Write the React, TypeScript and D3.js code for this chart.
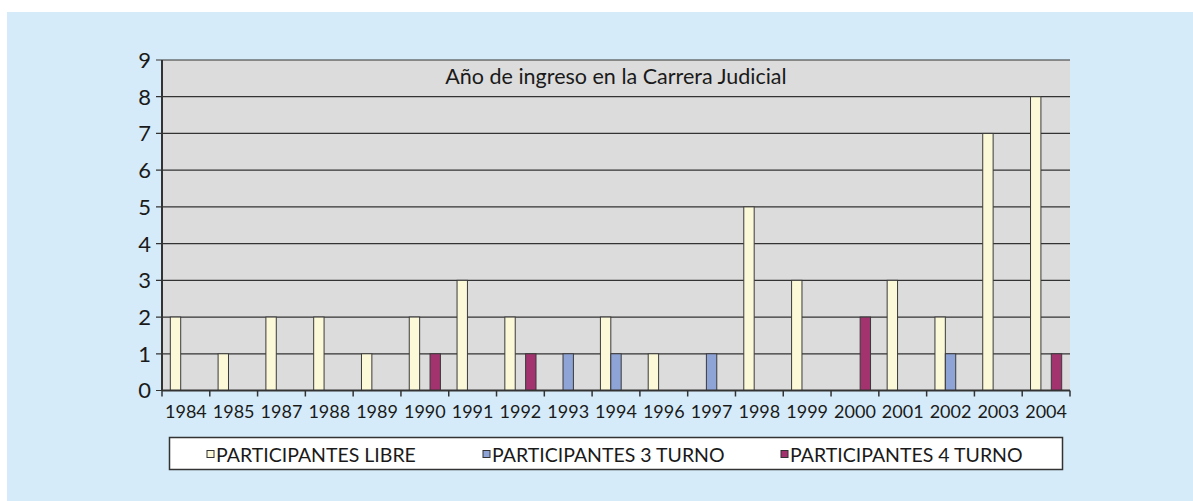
import React from "react";
import * as d3 from "d3";

// años en el eje X
const years = [
  "1984", "1985", "1987", "1988", "1989", "1990", "1991", "1992", "1993", "1994",
  "1996", "1997", "1998", "1999", "2000", "2001", "2002", "2003", "2004",
];

const seriesNames = ["PARTICIPANTES LIBRE", "PARTICIPANTES 3 TURNO", "PARTICIPANTES 4 TURNO"];
const seriesColors = ["#fcf9d9", "#8fa4d6", "#a3336f"];

const libre = [2, 1, 2, 2, 1, 2, 3, 2, 0, 2, 1, 0, 5, 3, 0, 3, 2, 7, 8];
const turno3 = [0, 0, 0, 0, 0, 0, 0, 0, 1, 1, 0, 1, 0, 0, 0, 0, 1, 0, 0];
const turno4 = [0, 0, 0, 0, 0, 1, 0, 1, 0, 0, 0, 0, 0, 0, 2, 0, 0, 0, 1];

const yTicks = [0, 1, 2, 3, 4, 5, 6, 7, 8, 9];
const title = "Año de ingreso en la Carrera Judicial";

const W = 1193;
const H = 501;
const plot = { left: 162, right: 1070, top: 60, bottom: 390.5 };
const font = "Lato, 'Open Sans', sans-serif";

export default function App() {
  const values = [libre, turno3, turno4];

  const x = d3.scaleBand().domain(years).range([plot.left, plot.right]).padding(0);
  const inner = d3
    .scaleBand()
    .domain(seriesNames)
    .range([0, x.bandwidth()])
    .paddingInner(0)
    .paddingOuter(0.8);
  const y = d3.scaleLinear().domain([0, 9]).range([plot.bottom, plot.top]);

  const boundaries = years.map((yr) => x(yr) as number).concat([plot.right]);

  // legend layout
  const legendX = [207, 483, 781];

  return (
    <svg
      width={W}
      height={H}
      style={{ position: "absolute", left: 0, top: 0 }}
      fontFamily={font}
    >
      <rect x={0} y={0} width={W} height={H} fill="#ffffff" />
      <rect x={7} y={12} width={W - 7} height={H - 12} fill="#d5ebf9" />

      {/* plot area */}
      <rect
        x={plot.left}
        y={plot.top}
        width={plot.right - plot.left}
        height={plot.bottom - plot.top}
        fill="#dcdcdc"
      />

      {/* grid lines */}
      {yTicks.map((t) => (
        <line
          key={"g" + t}
          x1={plot.left - 6}
          x2={plot.right}
          y1={y(t)}
          y2={y(t)}
          stroke="#333"
          strokeWidth={1.2}
        />
      ))}

      {/* bars */}
      {years.map((yr, i) =>
        seriesNames.map((s, k) =>
          values[k][i] > 0 ? (
            <rect
              key={yr + s}
              x={(x(yr) as number) + (inner(s) as number)}
              y={y(values[k][i])}
              width={inner.bandwidth()}
              height={y(0) - y(values[k][i])}
              fill={seriesColors[k]}
              stroke="#3a3a3a"
              strokeWidth={1}
            />
          ) : null
        )
      )}

      {/* axes */}
      <line x1={plot.left} x2={plot.left} y1={plot.top} y2={plot.bottom} stroke="#333" strokeWidth={2} />
      <line x1={plot.left} x2={plot.right} y1={plot.bottom} y2={plot.bottom} stroke="#333" strokeWidth={2} />
      {boundaries.map((b, i) => (
        <line key={"t" + i} x1={b} x2={b} y1={plot.bottom} y2={plot.bottom + 6} stroke="#333" strokeWidth={1.5} />
      ))}

      {yTicks.map((t) => (
        <text
          key={"yl" + t}
          x={151}
          y={y(t)}
          dy="0.36em"
          textAnchor="end"
          fontSize={22}
          fill="#1a1a1a"
        >
          {t}
        </text>
      ))}

      {years.map((yr) => (
        <text
          key={"xl" + yr}
          x={(x(yr) as number) + x.bandwidth() / 2}
          y={418}
          textAnchor="middle"
          fontSize={18}
          fill="#1a1a1a"
        >
          {yr}
        </text>
      ))}

      <text
        x={(plot.left + plot.right) / 2}
        y={84}
        textAnchor="middle"
        fontSize={21.5}
        fill="#1a1a1a"
      >
        {title}
      </text>

      {/* legend */}
      <rect x={169.5} y={437.5} width={893} height={32} fill="#ffffff" stroke="#333" strokeWidth={1.5} />
      {seriesNames.map((s, k) => (
        <g key={"lg" + s} transform={`translate(${legendX[k]},455)`}>
          <rect x={0} y={-4.5} width={7} height={7} fill={seriesColors[k]} stroke="#333" strokeWidth={1} />
          <text x={9} y={0} dy="0.36em" fontSize={19.5} fill="#1a1a1a">
            {s}
          </text>
        </g>
      ))}
    </svg>
  );
}
